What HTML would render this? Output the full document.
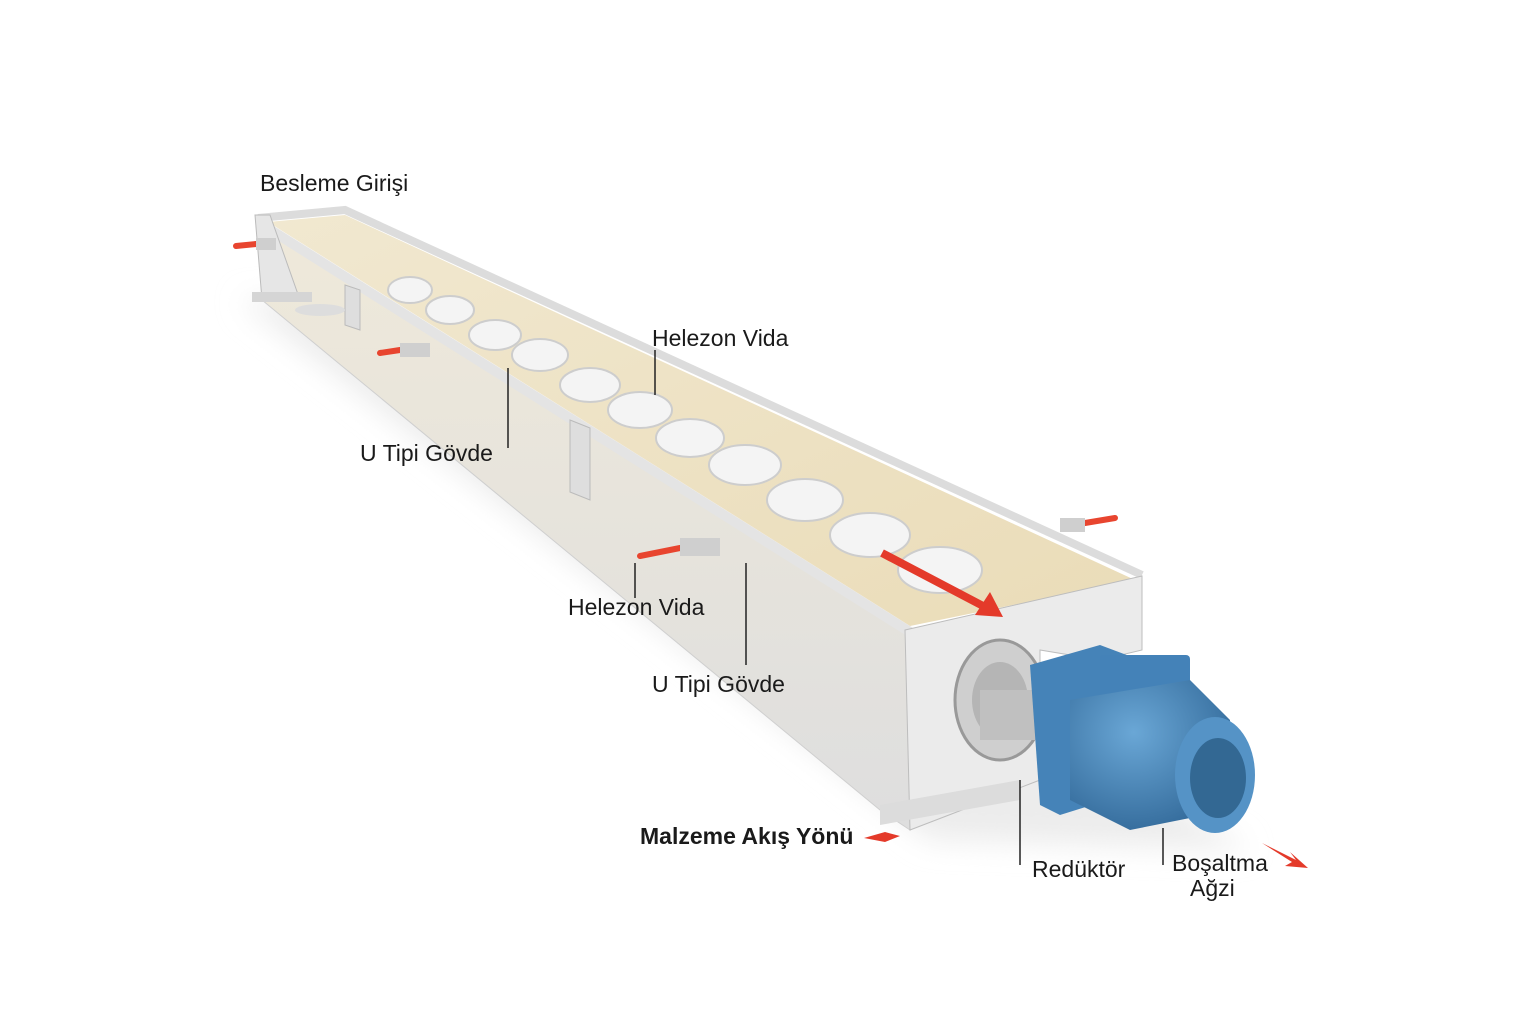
<!DOCTYPE html>
<html><head><meta charset="utf-8"><style>
html,body{margin:0;padding:0;background:#fff;}
svg{display:block}
text{font-family:"Liberation Sans",sans-serif;font-size:23px;fill:#1a1a1a}
</style></head><body>
<svg width="1536" height="1024" viewBox="0 0 1536 1024" xmlns="http://www.w3.org/2000/svg">
<defs>
<linearGradient id="side" x1="0" y1="0" x2="0" y2="1">
<stop offset="0" stop-color="#efe9da"/><stop offset="1" stop-color="#dedede"/></linearGradient>
<linearGradient id="mat" x1="0" y1="0" x2="1" y2="1">
<stop offset="0" stop-color="#f1e8d0"/><stop offset="1" stop-color="#eadcb8"/></linearGradient>
<radialGradient id="motor" cx="0.4" cy="0.35" r="0.7">
<stop offset="0" stop-color="#6aa7d6"/><stop offset="1" stop-color="#336a9a"/></radialGradient>
<filter id="sh" x="-20%" y="-20%" width="140%" height="140%"><feGaussianBlur stdDeviation="14"/></filter>
</defs>
<polygon points="240,300 930,840 1250,850 1000,700 330,300" fill="#ececec" filter="url(#sh)"/>
<polygon points="258,222 910,632 910,830 880,810 262,300" fill="url(#side)" stroke="#cfcfcf"/>
<polygon points="268,222 345,215 1135,580 910,626" fill="url(#mat)"/>
<g fill="#f4f4f4" stroke="#cdcdcd" stroke-width="2">
<ellipse cx="410" cy="290" rx="22" ry="13"/>
<ellipse cx="450" cy="310" rx="24" ry="14"/>
<ellipse cx="495" cy="335" rx="26" ry="15"/>
<ellipse cx="540" cy="355" rx="28" ry="16"/>
<ellipse cx="590" cy="385" rx="30" ry="17"/>
<ellipse cx="640" cy="410" rx="32" ry="18"/>
<ellipse cx="690" cy="438" rx="34" ry="19"/>
<ellipse cx="745" cy="465" rx="36" ry="20"/>
<ellipse cx="805" cy="500" rx="38" ry="21"/>
<ellipse cx="870" cy="535" rx="40" ry="22"/>
<ellipse cx="940" cy="570" rx="42" ry="23"/>
</g>
<polyline points="258,218 345,210 1142,575" fill="none" stroke="#dcdcdc" stroke-width="8"/>
<line x1="258" y1="222" x2="910" y2="632" stroke="#e4e4e4" stroke-width="10"/>
<g fill="#dedede" stroke="#bbb">
<polygon points="345,285 360,290 360,330 345,325"/>
<polygon points="570,420 590,428 590,500 570,492"/>
</g>
<polygon points="255,215 270,215 300,300 262,300" fill="#e6e6e6" stroke="#bbb"/>
<rect x="252" y="292" width="60" height="10" fill="#d5d5d5"/>
<ellipse cx="320" cy="310" rx="25" ry="6" fill="#ddd"/>
<polygon points="905,630 1142,576 1142,650 1100,660 1040,650 1040,780 910,830" fill="#ebebeb" stroke="#bdbdbd"/>
<polygon points="880,805 1020,780 1020,800 880,825" fill="#dcdcdc"/>
<ellipse cx="1000" cy="700" rx="45" ry="60" fill="#cfcfcf" stroke="#999" stroke-width="3"/>
<ellipse cx="1000" cy="700" rx="28" ry="38" fill="#b5b5b5"/>
<rect x="980" y="690" width="70" height="50" fill="#c0c0c0"/>
<polygon points="1030,665 1100,645 1140,660 1140,790 1060,815 1040,805" fill="#4583b8"/>
<rect x="1100" y="655" width="90" height="55" fill="#4482b8" rx="4"/>
<polygon points="1070,700 1190,680 1230,720 1230,810 1130,830 1070,800" fill="url(#motor)"/>
<ellipse cx="1215" cy="775" rx="40" ry="58" fill="#5593c6"/>
<ellipse cx="1218" cy="778" rx="28" ry="40" fill="#336893"/>
<g stroke="#e8452f" stroke-width="6" stroke-linecap="round">
<line x1="236" y1="246" x2="256" y2="244"/>
<line x1="380" y1="353" x2="400" y2="350"/>
<line x1="640" y1="556" x2="680" y2="548"/>
<line x1="1085" y1="523" x2="1115" y2="518"/>
</g>
<g fill="#cfcfcf"><rect x="256" y="238" width="20" height="12"/><rect x="400" y="343" width="30" height="14"/><rect x="680" y="538" width="40" height="18"/><rect x="1060" y="518" width="25" height="14"/></g>
<line x1="882" y1="553" x2="985" y2="607" stroke="#e43a2a" stroke-width="8"/>
<polygon points="1003,617 975,615 990,592" fill="#e43a2a"/>
<polygon points="864,838 885,832 900,836 885,842" fill="#e43a2a"/>
<polygon points="1262,843 1296,860 1290,852 1308,868 1285,866 1292,862" fill="#e43a2a"/>
<g stroke="#222" stroke-width="1.5">
<line x1="655" y1="350" x2="655" y2="395"/>
<line x1="508" y1="368" x2="508" y2="448"/>
<line x1="635" y1="563" x2="635" y2="598"/>
<line x1="746" y1="563" x2="746" y2="665"/>
<line x1="1020" y1="780" x2="1020" y2="865"/>
<line x1="1163" y1="828" x2="1163" y2="865"/>
</g>
<text x="260" y="191">Besleme Girişi</text>
<text x="652" y="346">Helezon Vida</text>
<text x="360" y="461">U Tipi Gövde</text>
<text x="568" y="615">Helezon Vida</text>
<text x="652" y="692">U Tipi Gövde</text>
<text x="640" y="844" style="font-weight:bold">Malzeme Akış Yönü</text>
<text x="1032" y="877">Redüktör</text>
<text x="1172" y="871">Boşaltma</text>
<text x="1190" y="896">Ağzi</text>
</svg>
</body></html>
